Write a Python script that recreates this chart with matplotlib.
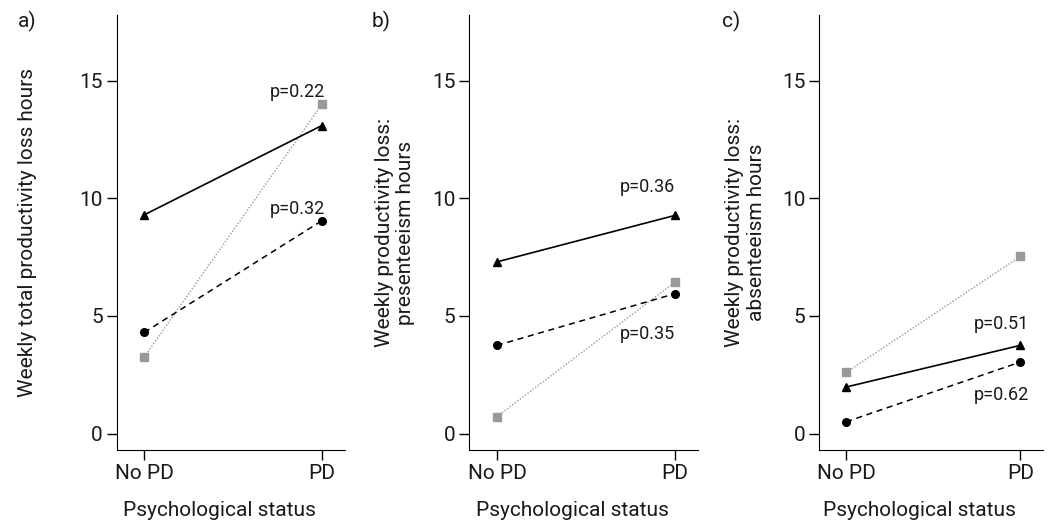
import matplotlib
matplotlib.use("Agg")
import matplotlib.pyplot as plt

plt.rcParams["font.family"] = ["Roboto", "DejaVu Sans"]
plt.rcParams["text.color"] = "#1a1a1a"
plt.rcParams["xtick.labelcolor"] = "#1a1a1a"
plt.rcParams["ytick.labelcolor"] = "#1a1a1a"
plt.rcParams["axes.labelcolor"] = "#1a1a1a"

groups = ["No PD", "PD"]

# panel a) total loss
total_tri = [9.3, 13.1]
total_circ = [4.3, 9.05]
total_sq = [3.25, 14.0]
# panel b) presenteeism
pres_tri = [7.3, 9.28]
pres_circ = [3.75, 5.95]
pres_sq = [0.72, 6.45]
# panel c) absenteeism
abs_tri = [1.98, 3.75]
abs_circ = [0.5, 3.04]
abs_sq = [2.6, 7.53]

panel_tags = ["a)", "b)", "c)"]
ylabels = ["Weekly total productivity loss hours",
           "Weekly productivity loss:\npresenteeism hours",
           "Weekly productivity loss:\nabsenteeism hours"]
pvals = [[("p=0.22", 14.3), ("p=0.32", 9.35)],
         [("p=0.36", 10.27), ("p=0.35", 4.04)],
         [("p=0.51", 4.46), ("p=0.62", 1.42)]]
pval_x = [1.02, 1.0, 1.05]

series = [(total_tri, total_circ, total_sq),
          (pres_tri, pres_circ, pres_sq),
          (abs_tri, abs_circ, abs_sq)]

fig = plt.figure(figsize=(10.53, 5.22), dpi=100)
lefts = [0.1108, 0.4457, 0.778]
widths = [0.2168, 0.2175, 0.2124]
label_x = [-0.39, -0.325, -0.33]
tag_x = [0.017, 0.353, 0.686]

x = [0, 1]
for k in range(3):
    ax = fig.add_axes([lefts[k], 0.1379, widths[k], 0.8334])
    tri, circ, sq = series[k]
    ax.plot(x, sq, ls=(0, (1, 1.3)), color="#999999", lw=1.0,
            marker="s", ms=5.5, mfc="#999999", mec="#999999", zorder=2)
    ax.plot(x, circ, ls=(0, (4, 3)), color="black", lw=1.1,
            marker="o", ms=5.5, zorder=3)
    ax.plot(x, tri, ls="-", color="black", lw=1.2,
            marker="^", ms=6.0, zorder=3)
    for txt, yv in pvals[k]:
        ax.text(pval_x[k], yv, txt, ha="right", va="baseline", fontsize=13)

    ax.set_xlim(-0.155, 1.13)
    ax.set_ylim(-0.7, 17.8)
    ax.set_xticks(x)
    ax.set_xticklabels(groups)
    ax.set_yticks([0, 5, 10, 15])
    ax.spines["top"].set_visible(False)
    ax.spines["right"].set_visible(False)
    ax.tick_params(direction="out", length=7, width=1, labelsize=15, pad=3)
    ax.set_xlabel("Psychological status", fontsize=15)
    ax.xaxis.set_label_coords(0.45, -0.138)
    ax.xaxis.label.set_va("center")
    ax.set_ylabel(ylabels[k], fontsize=15, linespacing=1.15)
    ax.yaxis.label.set_va("center")
    ax.yaxis.set_label_coords(label_x[k], 0.5)
    fig.text(tag_x[k], 0.958, panel_tags[k], fontsize=15, va="center")

fig.savefig("out.png", dpi=100)
